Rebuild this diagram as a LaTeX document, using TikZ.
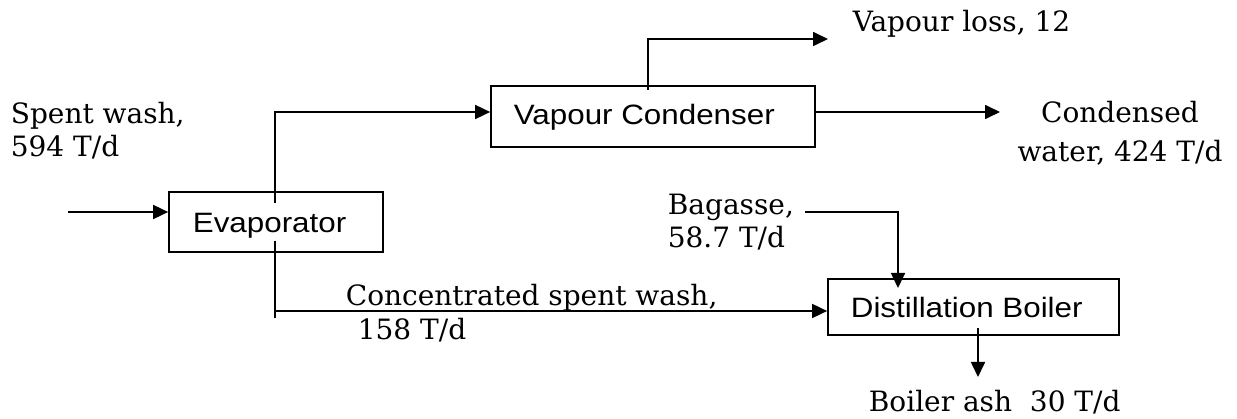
\documentclass[tikz,border=0pt]{standalone}
\usepackage{fontspec}
\setmainfont{DejaVu Serif}
\newfontfamily\boxfont[FakeStretch=1.12]{Liberation Sans}
\usetikzlibrary{arrows.meta}

\begin{document}
\begin{tikzpicture}[x=1pt,y=-1pt,
  line width=1.7pt,
  unit/.style={draw, line width=1.7pt, rectangle, inner sep=0pt},
  flow/.style={-{Triangle[length=15pt,width=14pt]}},
  lbl/.style={inner sep=0pt, font=\fontsize{28}{33}\selectfont},
  unitlbl/.style={inner sep=0pt, font=\boxfont\fontsize{28}{32}\selectfont},
]
\useasboundingbox (0,0) rectangle (1237,419);

% process units
\node[unit, minimum width=214pt, minimum height=60pt] (evap) at (276,222) {};
\node[unit, minimum width=324pt, minimum height=61pt] (cond) at (653,116.5) {};
\node[unit, minimum width=291pt, minimum height=56pt] (boiler) at (973.5,307) {};

\node[unitlbl, anchor=base west] (evaptxt) at (192,233) {Evaporator};
\node[unitlbl, anchor=base west] (condtxt) at (513,124.5) {Vapour Condenser};
\node[unitlbl, anchor=base west] (boilertxt) at (850,318) {Distillation Boiler};

% stream labels
\node[lbl, anchor=base west] (feed1) at (10,124) {Spent wash,};
\node[lbl, anchor=base west] (feed2) at (10,157) {594 T/d};
\node[lbl, anchor=base west] (loss) at (852,32) {Vapour loss, 12};
\node[lbl, anchor=base] (water1) at (1120,123) {Condensed};
\node[lbl, anchor=base] (water2) at (1120,162) {water, 424 T/d};
\node[lbl, anchor=base west] (bag1) at (667,215) {Bagasse,};
\node[lbl, anchor=base west] (bag2) at (667,248) {58.7 T/d};
\node[lbl, anchor=base west] (conc1) at (345,306) {Concentrated spent wash,};
\node[lbl, anchor=base west] (conc2) at (357,340) {158 T/d};
\node[lbl, anchor=base west] (ash) at (868,411) {Boiler ash\ \ 30 T/d};

% stream connectors
\coordinate (feed) at (68,212);
\draw[flow] (feed) -- (feed -| evap.west);

\coordinate (vapsplit) at (275,203);
\draw[flow] (vapsplit) |- ([yshift=4.5pt]cond.west);

\coordinate (lossstart) at (648,90);
\coordinate (lossend) at (828,39);
\draw[flow] (lossstart) |- (lossend);

\coordinate (wout) at (1000,112);
\draw[flow] ([yshift=4.5pt]cond.east) -- (wout);

\coordinate (concsplit) at (275,241);
\coordinate (conctail) at (275,318);
\coordinate (concin) at ([yshift=-4pt]boiler.west);
\draw (concsplit) -- (conctail);
\draw[flow] (concsplit |- concin) -- (concin);

\coordinate (bagstart) at (805,212);
\coordinate (bagin) at (898,288);
\draw[flow] (bagstart) -| (bagin);

\coordinate (ashstart) at (978,328);
\coordinate (ashend) at (978,377);
\draw[flow] (ashstart) -- (ashend);
\end{tikzpicture}
\end{document}
